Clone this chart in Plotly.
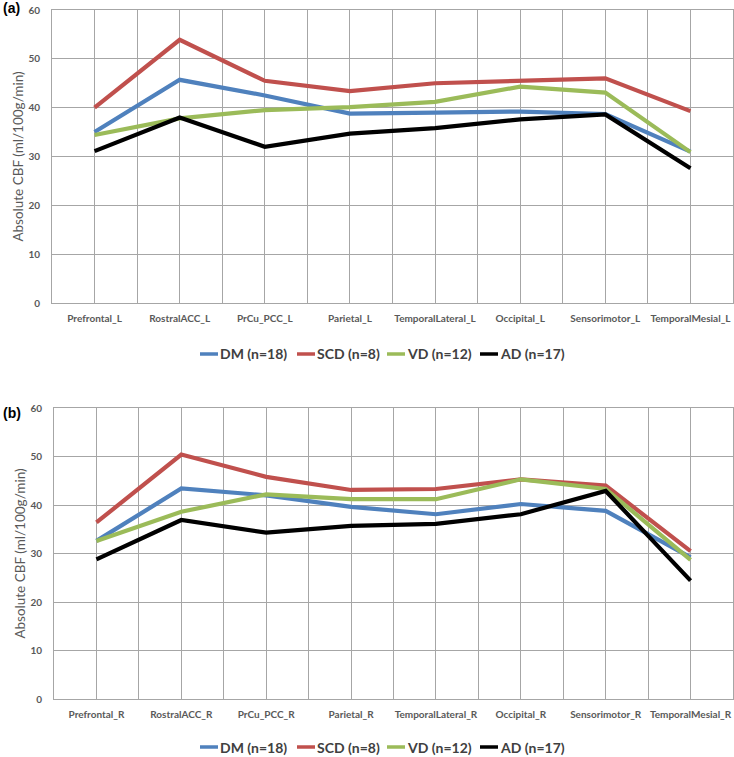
import plotly.graph_objects as go

regions_L = ["Prefrontal_L", "RostralACC_L", "PrCu_PCC_L", "Parietal_L",
             "TemporalLateral_L", "Occipital_L", "Sensorimotor_L", "TemporalMesial_L"]
regions_R = ["Prefrontal_R", "RostralACC_R", "PrCu_PCC_R", "Parietal_R",
             "TemporalLateral_R", "Occipital_R", "Sensorimotor_R", "TemporalMesial_R"]

group_names = ["DM (n=18)", "SCD (n=8)", "VD (n=12)", "AD (n=17)"]
group_colors = ["#4F81BD", "#C0504D", "#9BBB59", "#000000"]

# (a) left hemisphere
dm_L = [35.0, 45.7, 42.5, 38.8, 39.0, 39.2, 38.7, 31.0]
scd_L = [40.0, 53.9, 45.5, 43.4, 45.0, 45.5, 46.0, 39.3]
vd_L = [34.4, 37.8, 39.5, 40.1, 41.2, 44.3, 43.1, 30.9]
ad_L = [31.1, 38.0, 32.0, 34.7, 35.8, 37.6, 38.6, 27.6]

# (b) right hemisphere
dm_R = [32.6, 43.4, 42.0, 39.6, 38.1, 40.2, 38.8, 29.2]
scd_R = [36.4, 50.4, 45.8, 43.1, 43.3, 45.3, 44.0, 30.5]
vd_R = [32.6, 38.6, 42.2, 41.2, 41.2, 45.3, 43.3, 28.7]
ad_R = [28.8, 36.9, 34.3, 35.7, 36.1, 38.1, 42.9, 24.4]

y_ticks = [0, 10, 20, 30, 40, 50, 60]
y_title = "Absolute CBF (ml/100g/min)"

FW, FH = 734, 757

def px_x(p):
    return p / FW

def px_y(p):
    return 1 - p / FH

fig = go.Figure()

panels = [
    ("x", "y", regions_L, [dm_L, scd_L, vd_L, ad_L]),
    ("x2", "y2", regions_R, [dm_R, scd_R, vd_R, ad_R]),
]
for xa, ya, cats, series in panels:
    idx = list(range(len(cats)))
    for name, color, vals in zip(group_names, group_colors, series):
        fig.add_trace(go.Scatter(
            x=idx, y=vals, mode="lines", name=name,
            line=dict(color=color, width=4.2),
            xaxis=xa, yaxis=ya, showlegend=False,
        ))

grid = "#A6A6A6"
tickfont = dict(family="Lato, Open Sans, sans-serif", size=10, color="#595959", weight="bold")

def xaxis(cats, y_anchor, left_px):
    n = len(cats)
    return dict(
        domain=[px_x(left_px), px_x(733)], anchor=y_anchor, automargin=False,
        range=[-0.5, n - 0.5], tickmode="array",
        tickvals=list(range(n)), ticktext=cats,
        showgrid=True, gridcolor=grid, gridwidth=1,
        minor=dict(tickmode="array", tickvals=[i + 0.5 for i in range(-1, n)],
                   showgrid=True, gridcolor=grid, gridwidth=1),
        showline=True, linecolor=grid, mirror=True, linewidth=1,
        ticks="", tickfont=tickfont, zeroline=False, fixedrange=True,
        ticklabeloverflow="allow", ticklabelstandoff=6,
    )

def yaxis(top_px, bot_px, x_anchor):
    return dict(
        domain=[px_y(bot_px), px_y(top_px)], anchor=x_anchor, automargin=False,
        range=[0, 60], tickvals=y_ticks,
        showgrid=True, gridcolor=grid, gridwidth=1,
        showline=True, linecolor=grid, mirror=True, linewidth=1,
        zeroline=False, ticks="", tickfont=tickfont, ticklabelstandoff=9,
        fixedrange=True,
        title=dict(text=y_title,
                   font=dict(family="Liberation Sans Narrow, Lato, sans-serif",
                             size=13.5, color="#595959"), standoff=1),
    )

# legends drawn as line swatches + text, one row per panel
legend_rows = [354, 747]
legend_starts = [200, 297, 387, 480]
annotations = []
shapes = []
for row_y in legend_rows:
    for name, color, x0 in zip(group_names, group_colors, legend_starts):
        shapes.append(dict(type="line", xref="paper", yref="paper",
                           x0=px_x(x0), x1=px_x(x0 + 18), y0=px_y(row_y), y1=px_y(row_y),
                           line=dict(color=color, width=3.5)))
        annotations.append(dict(text=name, xref="paper", yref="paper",
                                x=px_x(x0 + 18), y=px_y(row_y),
                                xanchor="left", yanchor="middle", showarrow=False,
                                font=dict(family="Lato, Open Sans, sans-serif", size=14,
                                          color="#404040", weight="bold")))

for label, ly in [("(a)", 8), ("(b)", 413)]:
    annotations.append(dict(text=label, x=px_x(1), y=px_y(ly), xref="paper", yref="paper",
                            xanchor="left", yanchor="middle", showarrow=False,
                            font=dict(family="Liberation Sans, Arial", size=14,
                                      color="black", weight="bold")))

fig.update_layout(
    width=FW, height=FH,
    margin=dict(l=0, r=0, t=0, b=0),
    paper_bgcolor="white", plot_bgcolor="white",
    showlegend=False,
    xaxis=xaxis(regions_L, "y", 52),
    yaxis=yaxis(10, 303, "x"),
    xaxis2=xaxis(regions_R, "y2", 54),
    yaxis2=yaxis(408, 699, "x2"),
    annotations=annotations,
    shapes=shapes,
)

fig.write_html(
    "out.html",
    config={"displayModeBar": False},
    post_script="document.body.style.margin='0';document.body.style.overflow='hidden';",
)
